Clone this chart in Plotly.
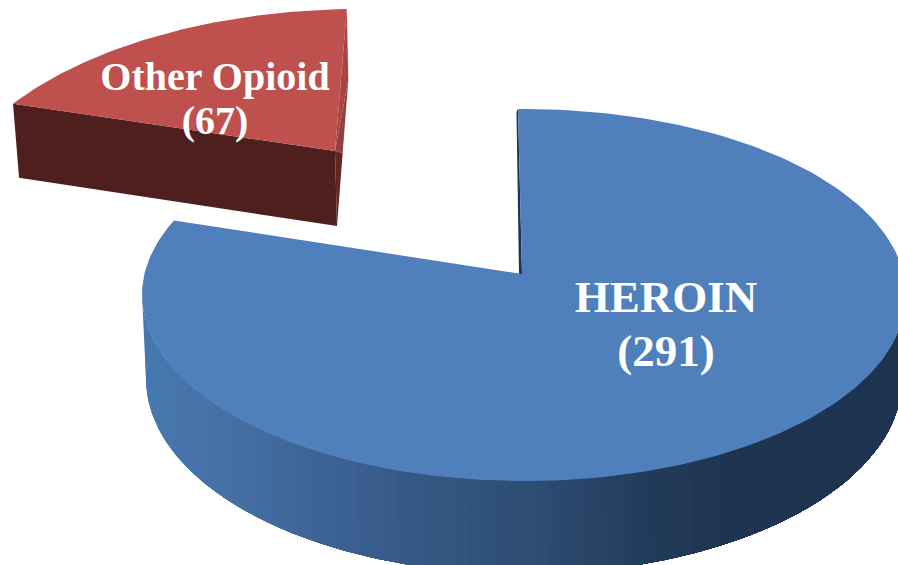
import numpy as np
import plotly.graph_objects as go

# ---- data ----
slice_labels = ["HEROIN", "Other Opioid"]
slice_values = [291, 67]

# ---- 3D look of the pie (ellipse projection, pixels of the plot area) ----
W, H = 898, 565
BLUE_TOP = dict(cx=524, cy=295, a=382, b=186)
BLUE_LOW = dict(cx=524, cy=379, a=378, b=195)
BLUE_APEX = (522, 274)
BLUE_START = -0.9
BLUE_WARP = 1.0065
RED_TOP = dict(cx=360, cy=226, a=420, b=217)
RED_APEX = (335, 151)
RED_START = -1.8
RED_WARP = 0.8
RED_DROP_LEFT = (6, 74)
RED_DROP_RIGHT = (2, 75)
RED_BULGE = (1.5, 71)
C_BLUE, C_RED, C_RED_WALL, C_BLUE_DARK = "#4F80BB", "#BE504D", "#4E1F1C", "#1D3350"
C_RED_SIDE = ["#A94542", "#93403C", "#632623"]
WALL_STOPS_X = [145, 240, 300, 400, 530, 650, 720, 900]
WALL_STOPS_R = [0x48, 0x45, 0x3F, 0x38, 0x2D, 0x23, 0x20, 0x1E]
WALL_STOPS_G = [0x78, 0x6F, 0x66, 0x5A, 0x4D, 0x3B, 0x35, 0x33]
WALL_STOPS_B = [0xB0, 0xA3, 0x99, 0x88, 0x73, 0x5A, 0x52, 0x50]

total = sum(slice_values)
sweeps = [360 * v / total for v in slice_values]


def pt(e, deg):
    t = np.radians(deg)
    return e["cx"] + e["a"] * np.sin(t), e["cy"] - e["b"] * np.cos(t)


def poly(fig, xs, ys, color, width=0.0):
    fig.add_trace(go.Scatter(x=list(xs), y=list(ys), mode="lines", fill="toself", fillcolor=color,
                             line=dict(color=color, width=width), hoverinfo="skip", showlegend=False))


fig = go.Figure()

# blue wall: painted left to right, each band reaching to the right end, so no seams show
deg = np.linspace(270, 90, 361)
tx, ty = pt(BLUE_TOP, deg)
lx_, ly_ = pt(BLUE_LOW, deg)
for band_left in np.arange(130, 900, 14.0):
    keep_t = tx >= band_left
    keep_l = lx_ >= band_left
    if keep_t.sum() < 2 or keep_l.sum() < 2:
        continue
    xm = band_left + 7
    col = "rgb(%d,%d,%d)" % tuple(np.interp(xm, WALL_STOPS_X, s) for s in (WALL_STOPS_R, WALL_STOPS_G, WALL_STOPS_B))
    poly(fig, [*tx[keep_t], *lx_[keep_l][::-1]], [*ty[keep_t], *ly_[keep_l][::-1]], col)

# blue cut face sliver and top
start = BLUE_START
end = BLUE_START + sweeps[0] * BLUE_WARP
sx, sy = pt(BLUE_TOP, start)
poly(fig, [sx - 1.5, sx, BLUE_APEX[0], BLUE_APEX[0] - 3], [sy + 3, sy, BLUE_APEX[1], BLUE_APEX[1]], C_BLUE_DARK)
arc = np.linspace(start, end, 240)
ax, ay = pt(BLUE_TOP, arc)
poly(fig, [BLUE_APEX[0], *ax, BLUE_APEX[0]], [BLUE_APEX[1], *ay, BLUE_APEX[1]], C_BLUE)

# red slice
arc = np.linspace(RED_START - sweeps[1] * RED_WARP, RED_START, 80)
ax, ay = pt(RED_TOP, arc)
lx, ly = ax[0], ay[0]
rx, ry = ax[-1], ay[-1]
apx, apy = RED_APEX
lowx, lowy = apx + RED_DROP_RIGHT[0], apy + RED_DROP_RIGHT[1]
bx, by = rx + RED_BULGE[0], ry + RED_BULGE[1]
mx, my = (bx + lowx) / 2, (by + lowy) / 2
poly(fig, [rx, bx, apx], [ry, by, apy], C_RED_SIDE[0])
poly(fig, [bx, mx, apx], [by, my, apy], C_RED_SIDE[1])
poly(fig, [mx, lowx, apx], [my, lowy, apy], C_RED_SIDE[2])
poly(fig, [lx, apx, lowx, lx + RED_DROP_LEFT[0]], [ly, apy, lowy, ly + RED_DROP_LEFT[1]], C_RED_WALL)
poly(fig, [apx, *ax, apx], [apy, *ay, apy], C_RED)

# labels
label_pos = [(666, 301, 355, 45), (215, 80, 124, 40)]
for name, val, (x, y1, y2, size) in zip(slice_labels, slice_values, label_pos):
    fig.add_trace(go.Scatter(x=[x, x], y=[y1, y2], mode="text", text=[f"<b>{name}</b>", f"<b>({val})</b>"],
                             textposition="middle center", hoverinfo="skip", showlegend=False,
                             textfont=dict(family="Liberation Serif", size=size, color="white")))

fig.update_layout(width=W, height=H, margin=dict(l=0, r=0, t=0, b=0), paper_bgcolor="white", plot_bgcolor="white",
                  xaxis=dict(range=[0, W], visible=False, fixedrange=True),
                  yaxis=dict(range=[H, 0], visible=False, fixedrange=True))
fig.write_html("out.html", config=dict(displayModeBar=False),
               post_script="document.body.style.margin='0';document.documentElement.style.overflow='hidden';")
